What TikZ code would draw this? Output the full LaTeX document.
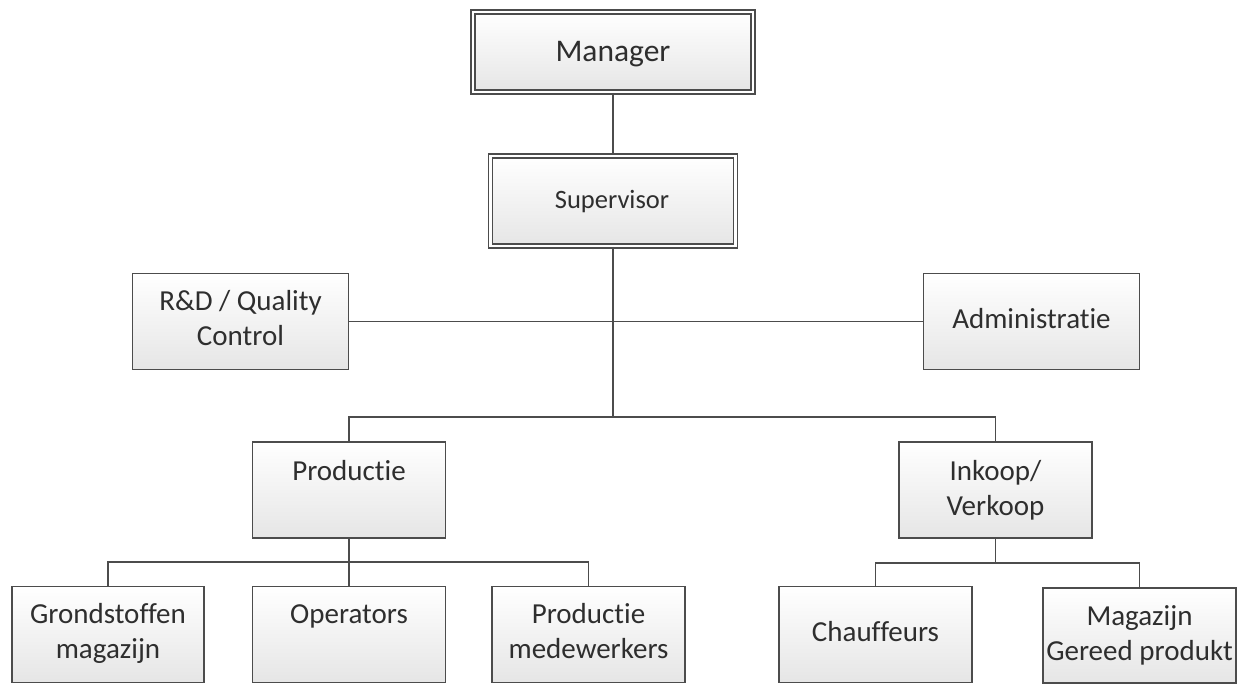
\documentclass[tikz,border=0pt]{standalone}
\usepackage{fontspec}
\setmainfont{Carlito}[Ligatures=NoCommon]
\begin{document}
\begin{tikzpicture}[x=1pt,y=-1pt,
  unit/.style={draw=black!70, line width=1.8pt, top color=white, bottom color=black!10,
    minimum width=#1, inner sep=0pt},
  unit/.default=193pt,
  headunit/.style={unit=#1, double=white, double distance=2.4pt, line width=1.5pt},
  lbl/.style={text=black!82, align=center, anchor=base, inner sep=0pt,
    font=\fontsize{29}{35}\selectfont},
  link/.style={draw=black!70, line width=1.8pt}]
\useasboundingbox (0,0) rectangle (1248,685);

% boxes
\node[headunit=280pt, minimum height=80pt] (mgr) at (613,52) {};
\node[headunit=245pt, minimum height=90pt] (sup) at (613,201) {};
\node[unit=216pt, minimum height=96pt] (rd) at (240.5,321.5) {};
\node[unit=216pt, minimum height=96pt] (adm) at (1031.5,321.5) {};
\node[unit, minimum height=96pt] (prod) at (349,490) {};
\node[unit, minimum height=96pt] (inko) at (995.5,490) {};
\node[unit=192pt, minimum height=96pt] (grond) at (108,634.5) {};
\node[unit, minimum height=96pt] (oper) at (349,634.5) {};
\node[unit, minimum height=96pt] (pmed) at (588.5,634.5) {};
\node[unit, minimum height=96pt] (chauf) at (875.5,634.5) {};
\node[unit, minimum height=95pt] (mag) at (1139.5,635.5) {};

% texts (multi-line labels sit on the baseline of their last line)
\node[lbl, font=\fontsize{31.5}{38}\selectfont] (tmgr) at (613,62) {Manager};
\node[lbl, font=\fontsize{26.5}{32}\selectfont] (tsup) at (612,208) {Supervisor};
\node[lbl] (trd) at (240.5,345) {R\&D / Quality\\Control};
\node[lbl] (tadm) at (1031.5,328) {Administratie};
\node[lbl] (tprod) at (349,480) {Productie};
\node[lbl] (tinko) at (995.5,515) {Inkoop/\\Verkoop};
\node[lbl] (tgrond) at (108,658) {Grondstoffen\\magazijn};
\node[lbl] (toper) at (349,623) {Operators};
\node[lbl] (tpmed) at (588.5,658) {Productie\\medewerkers};
\node[lbl] (tchauf) at (875.5,641) {Chauffeurs};
\node[lbl] (tmag) at (1139.5,660) {Magazijn\\Gereed produkt};

% connectors
\draw[link] (mgr.south) -- (sup.north);
\draw[link] (rd.east) -- (adm.west);
\draw[link] (prod.north) -- ++(0,-24) coordinate (topbar) -| (inko.north);
\draw[link] (sup.south) -- (sup.south |- topbar);
\draw[link] (grond.north) -- ++(0,-24) -| (pmed.north);
\draw[link] (prod.south) -- (oper.north);
\draw[link] (chauf.north) -- ++(0,-23) coordinate (rightbar) -| (mag.north);
\draw[link] (inko.south) -- (inko.south |- rightbar);
\end{tikzpicture}
\end{document}
